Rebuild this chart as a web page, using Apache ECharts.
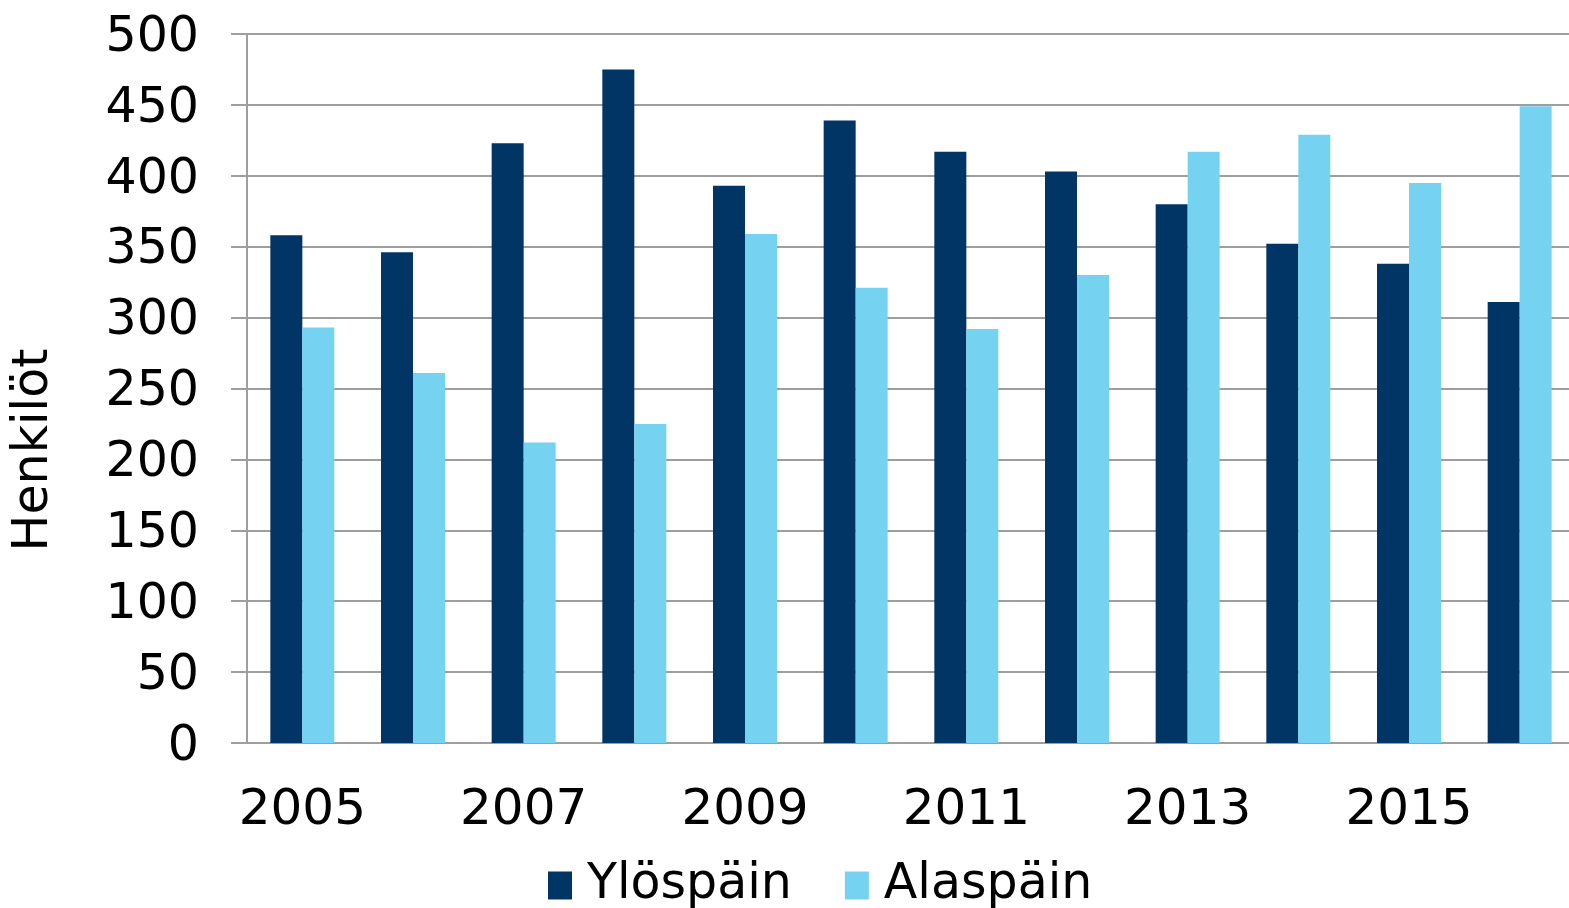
<!DOCTYPE html>
<html>
<head>
<meta charset="utf-8">
<script src="https://cdn.jsdelivr.net/npm/echarts@6/dist/echarts.min.js"></script>
<style>
    html, body { margin: 0; padding: 0; background: #fff; overflow: hidden; }
    /* the plot runs a few pixels past the right edge in the original */
    #chart { width: 1575px; height: 908px; }
</style>
</head>
<body>
<div id="chart"></div>
<script>
// data
var years = ['2005', '2006', '2007', '2008', '2009', '2010', '2011', '2012', '2013', '2014', '2015', '2016'];
var ylospain = [358, 346, 423, 475, 393, 439, 417, 403, 380, 352, 338, 311];
var alaspain = [293, 261, 212, 225, 359, 321, 292, 330, 417, 429, 395, 449];
var seriesNames = ['Ylöspäin', 'Alaspäin'];
var yName = 'Henkilöt';

var font = 'DejaVu Sans, Verdana, sans-serif';
var gridColor = '#9e9e9e';

window.onload = function () {
    var myChart = echarts.init(document.getElementById('chart'));
    var option = {
        backgroundColor: '#fff',
        animation: false,
        color: ['#003566', '#75d2f1'],
        grid: {
            left: 247,
            right: 0,
            top: 34,
            bottom: 165
        },
        legend: {
            left: 543,
            top: 856,
            itemWidth: 24,
            itemHeight: 28,
            itemGap: 53,
            icon: 'rect',
            textStyle: {
                fontFamily: font,
                fontSize: 49,
                color: '#000',
                padding: [0, 0, 0, 10]
            },
            data: seriesNames
        },
        graphic: [{
            type: 'text',
            x: 34,
            y: 450,
            rotation: Math.PI / 2,
            style: {
                text: yName,
                fontFamily: font,
                fontSize: 49,
                fill: '#000',
                align: 'center',
                verticalAlign: 'middle'
            }
        }],
        xAxis: {
            type: 'category',
            data: years,
            axisLine: { lineStyle: { color: gridColor, width: 2 } },
            axisTick: { interval: 0, length: 16, lineStyle: { color: gridColor, width: 2 } },
            axisLabel: {
                interval: 1,
                margin: 43,
                fontFamily: font,
                fontSize: 50,
                color: '#000'
            }
        },
        yAxis: {
            type: 'value',
            min: 0,
            max: 500,
            interval: 50,
            axisLine: { show: true, lineStyle: { color: gridColor, width: 2 } },
            axisTick: { show: true, length: 16, lineStyle: { color: gridColor, width: 2 } },
            splitLine: { lineStyle: { color: gridColor, width: 2 } },
            axisLabel: {
                margin: 48,
                verticalAlign: 'top',
                lineHeight: 8,
                fontFamily: font,
                fontSize: 49,
                color: '#000'
            }
        },
        series: [{
            name: seriesNames[0],
            type: 'bar',
            data: ylospain,
            barWidth: 32,
            barGap: '0%'
        }, {
            name: seriesNames[1],
            type: 'bar',
            data: alaspain,
            barWidth: 32,
            barGap: '0%'
        }]
    };
    myChart.setOption(option);

    window.onresize = function () {
        myChart.resize();
    };
};
</script>
</body>
</html>
